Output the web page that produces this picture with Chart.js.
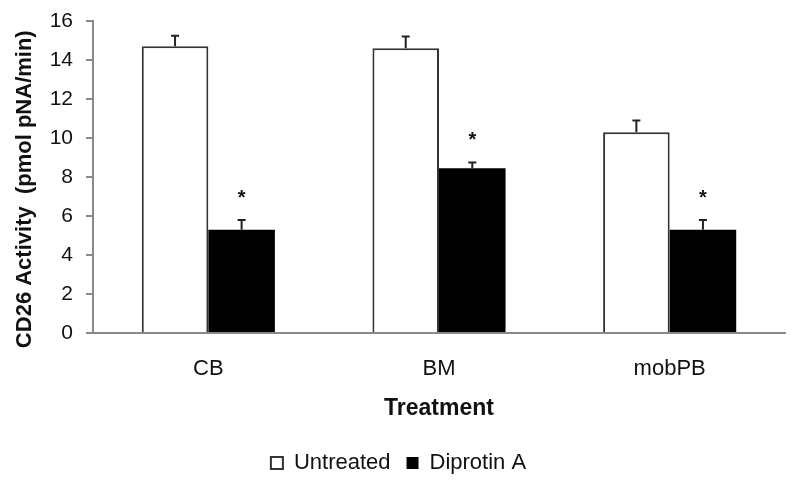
<!DOCTYPE html>
<html>
<head>
<meta charset="utf-8">
<script src="https://cdn.jsdelivr.net/npm/chart.js@4"></script>
<style>
  html, body { margin: 0; padding: 0; background: #fff; }
  #wrap { width: 800px; height: 488px; }
</style>
</head>
<body>
<div id="wrap"><canvas id="cd26Chart"></canvas></div>
<script>
// =============================
// Data
// =============================
const categories = ["CB", "BM", "mobPB"];
const untreated = [14.7, 14.6, 10.3];
const untreatedErr = [0.55, 0.6, 0.6];
const diprotin = [5.3, 8.45, 5.3];
const diprotinErr = [0.5, 0.3, 0.5];
const diprotinSig = [true, true, true];
const yTicks = [0, 2, 4, 6, 8, 10, 12, 14, 16];

const FONT = "'Liberation Sans', Arial, sans-serif";

// =============================
// Error bars + significance stars
// =============================
const errorBars = {
  id: "errorBars",
  afterDatasetsDraw(chart) {
    const ctx = chart.ctx;
    const yScale = chart.scales.y;
    const errs = [untreatedErr, diprotinErr];
    const sigs = [null, diprotinSig];
    ctx.save();
    ctx.strokeStyle = "#222";
    ctx.lineWidth = 2;
    ctx.fillStyle = "#111";
    ctx.font = "bold 20px " + FONT;
    ctx.textAlign = "center";
    ctx.textBaseline = "alphabetic";
    chart.data.datasets.forEach((ds, i) => {
      const meta = chart.getDatasetMeta(i);
      meta.data.forEach((bar, j) => {
        const top = yScale.getPixelForValue(ds.data[j] + errs[i][j]);
        ctx.beginPath();
        ctx.moveTo(bar.x, bar.y);
        ctx.lineTo(bar.x, top);
        ctx.moveTo(bar.x - 4, top);
        ctx.lineTo(bar.x + 4, top);
        ctx.stroke();
        if (sigs[i] && sigs[i][j]) {
          ctx.fillText("*", bar.x, top - 16);
        }
      });
    });
    ctx.restore();
  }
};

new Chart(document.getElementById("cd26Chart"), {
  type: "bar",
  data: {
    labels: categories,
    datasets: [
      {
        label: "Untreated",
        data: untreated,
        backgroundColor: "#ffffff",
        borderColor: "#333333",
        borderWidth: 2,
        barPercentage: 1,
        categoryPercentage: 0.577
      },
      {
        label: "Diprotin A",
        data: diprotin,
        backgroundColor: "#000000",
        borderColor: "#000000",
        borderWidth: 0,
        barPercentage: 1,
        categoryPercentage: 0.577
      }
    ]
  },
  options: {
    responsive: true,
    maintainAspectRatio: false,
    animation: false,
    layout: { padding: { left: 12, right: 15, top: 21, bottom: 4 } },
    plugins: {
      legend: {
        position: "bottom",
        labels: {
          font: { family: FONT, size: 22 },
          color: "#111",
          boxWidth: 12,
          boxHeight: 12,
          padding: 16
        }
      },
      tooltip: { enabled: false }
    },
    scales: {
      x: {
        grid: { display: false, drawTicks: false },
        border: { color: "#8a8a8a", width: 2 },
        ticks: {
          font: { family: FONT, size: 22 },
          color: "#111",
          padding: 23
        },
        title: {
          display: true,
          text: "Treatment",
          font: { family: FONT, size: 23, weight: "bold" },
          color: "#111",
          padding: { top: 0, bottom: 14 }
        },
        afterFit: s => { s.height = 103; }
      },
      y: {
        min: 0,
        max: 16,
        afterBuildTicks: s => { s.ticks = yTicks.map(v => ({ value: v })); },
        grid: { drawOnChartArea: false, drawTicks: true, tickLength: 7, color: "#8a8a8a", lineWidth: 2 },
        border: { color: "#8a8a8a", width: 2 },
        ticks: {
          font: { family: FONT, size: 21 },
          color: "#111",
          padding: 13
        },
        title: {
          display: true,
          text: "CD26 Activity  (pmol pNA/min)    ",
          font: { family: FONT, size: 22, weight: "bold" },
          color: "#111",
          padding: { top: 0, bottom: 0 }
        },
        afterFit: s => {
          s.width = 81;
          s.paddingTop = 0;
          s.paddingBottom = 0;
        }
      }
    }
  },
  plugins: [errorBars]
});
</script>
</body>
</html>
